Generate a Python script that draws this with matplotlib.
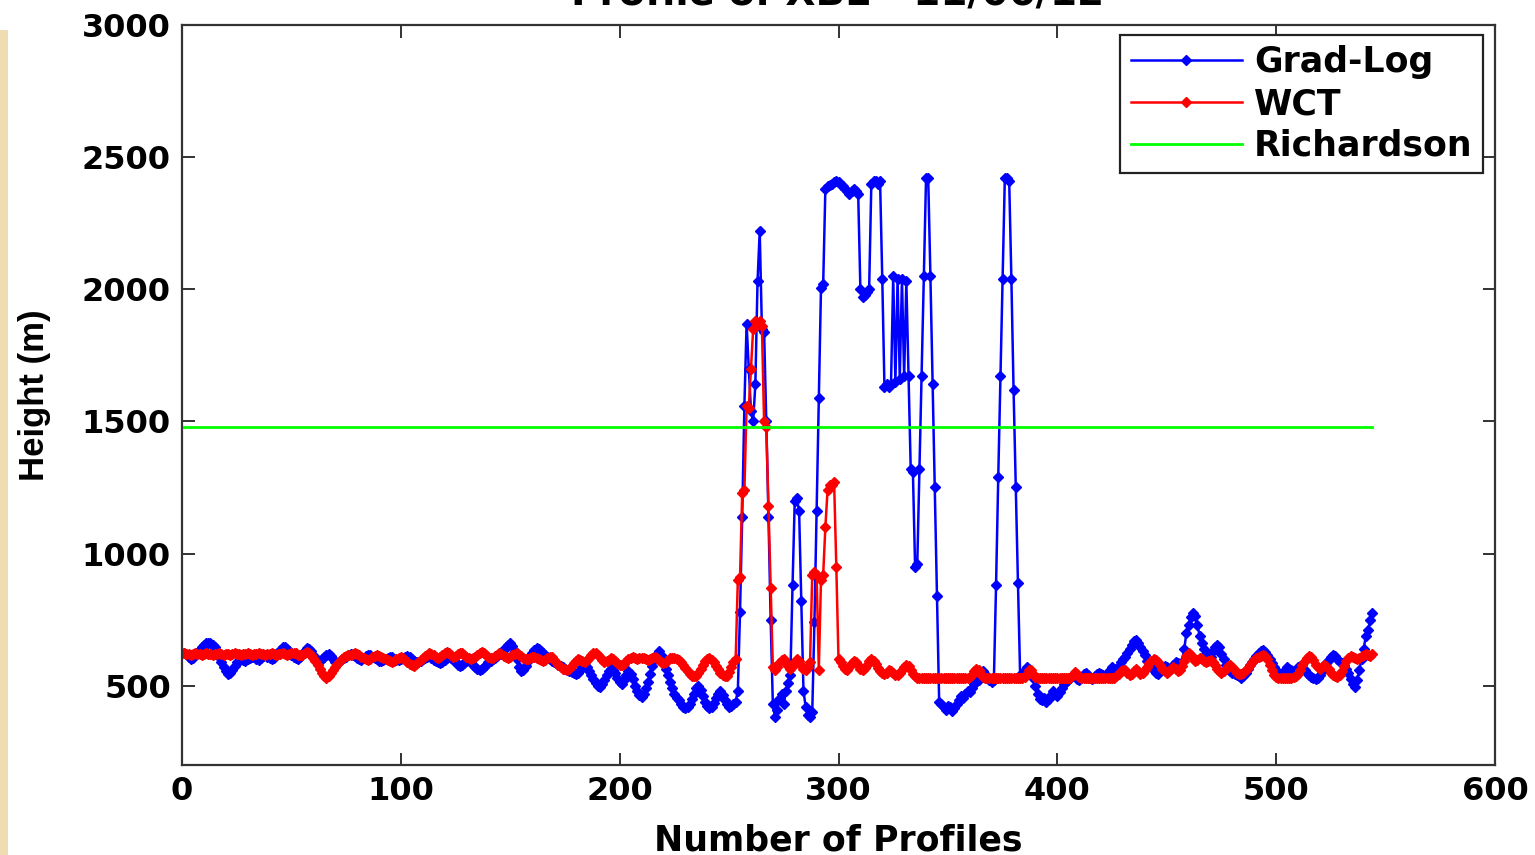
import matplotlib
matplotlib.use('Agg')
import matplotlib.pyplot as plt
from matplotlib.patches import Rectangle
import numpy as np

# Grad-Log boundary layer height per profile (m)
grad_log = [
    625, 620, 610, 600, 605, 615, 625, 635, 645, 655, 660, 662, 660, 655, 645, 630, 610, 590, 570, 555,
    545, 550, 560, 575, 590, 595, 600, 598, 595, 600, 605, 610, 608, 600, 598, 605, 612, 615, 610, 605,
    600, 605, 615, 625, 635, 645, 648, 640, 630, 618, 610, 605, 600, 610, 620, 632, 642, 640, 630, 615,
    605, 598, 595, 600, 608, 615, 620, 612, 600, 590, 585, 592, 600, 606, 610, 615, 620, 618, 612, 605,
    600, 598, 605, 612, 618, 615, 610, 605, 600, 595, 592, 596, 600, 605, 610, 608, 602, 598, 596, 600,
    605, 610, 612, 608, 600, 595, 590, 588, 592, 600, 606, 610, 612, 605, 598, 592, 588, 585, 590, 598,
    605, 610, 604, 596, 588, 580, 575, 578, 585, 592, 598, 590, 580, 570, 565, 560, 565, 572, 580, 590,
    595, 600, 605, 612, 620, 628, 636, 645, 655, 660, 650, 630, 600, 570, 555, 560, 575, 595, 610, 625,
    635, 642, 640, 632, 625, 615, 608, 600, 595, 590, 585, 580, 575, 570, 565, 560, 555, 552, 548, 545,
    550, 560, 572, 580, 570, 555, 540, 525, 510, 500, 495, 505, 520, 540, 555, 565, 560, 548, 530, 515,
    505, 520, 540, 555, 545, 525, 500, 480, 465, 458, 470, 490, 515, 545, 575, 600, 620, 630, 615, 590,
    565, 540, 515, 490, 470, 455, 445, 430, 420, 415, 418, 430, 450, 470, 490, 500, 485, 460, 440, 425,
    415, 420, 435, 455, 470, 480, 465, 445, 430, 420,
    425, 430, 440, 480, 780, 1140, 1560, 1870, 1700, 1540, 1500, 1640, 2030, 2220, 1850, 1840, 1500, 1140, 750, 430,
    380, 410, 450, 470, 430, 480, 510, 540, 880, 1200, 1210, 1160, 820, 480, 420, 390, 380, 400, 740, 1160,
    1590, 2005, 2020, 2380, 2390, 2395, 2400, 2405, 2410, 2405,
    2395, 2390, 2380, 2370, 2360, 2370, 2380, 2370, 2360, 2000, 1970, 1980, 1990, 2000, 2400, 2410, 2410, 2400, 2410, 2040,
    1630, 1640, 1630, 1640, 2050, 1650, 2040, 1660, 2040, 1670, 2030, 1670, 1320, 1310, 950, 960, 1320, 1670, 2050, 2420,
    2420, 2050, 1640, 1250, 840, 440,
    430, 420, 410, 425, 420, 405, 415, 430, 445, 460, 455, 470, 480, 475, 490, 505, 515, 520, 540, 555,
    545, 530, 520, 515, 520,
    880, 1290, 1670, 2040, 2420, 2420, 2410, 2040, 1620, 1250, 890, 540,
    545, 560, 570, 565, 550, 530, 500, 470, 450, 445, 455, 440, 450, 465, 480, 470, 460, 475, 490, 505,
    515, 520, 530, 540, 535, 525, 520, 530, 545, 550, 540, 530, 525, 535, 545, 550, 545,
    540, 535, 545, 560, 570, 565, 560, 575, 590, 600, 610, 625, 640, 655, 668, 672, 660, 648, 630, 615,
    595, 580, 570, 560, 550, 545, 555, 565, 575, 570, 560, 565, 580, 590, 585, 575, 590, 640, 700, 730,
    760, 776, 765, 730, 690, 660, 640, 620, 600, 610, 630, 648, 655, 645, 620, 600, 580, 565, 555, 548,
    545, 540, 535, 530, 538, 550, 565, 578, 590, 600, 612, 622, 630, 635, 628, 615, 600, 585, 570, 558,
    550, 545, 550, 560,
    570, 565, 560, 555, 560, 570, 575, 568, 558, 548, 540, 532, 528, 525, 530, 540, 555, 570, 585, 598,
    610, 618, 612, 600, 590, 585, 578, 565, 548, 525, 505, 495, 520, 560, 600, 640, 690, 710, 750, 776,
]

# WCT boundary layer height per profile (m)
wct = [
    622, 620, 620, 618, 620, 622, 620, 620, 618, 620, 622, 620, 620, 618, 620, 620, 622, 620, 618, 620,
    620, 618, 620, 622, 620, 620, 618, 620, 620, 622, 620, 618, 620, 620, 622, 620, 620, 618, 620, 620,
    622, 620, 618, 620, 620, 622, 620, 618, 620, 622, 625, 622, 618, 615, 618, 622, 628, 625, 615, 605,
    592, 578, 562, 548, 536, 530, 535, 548, 560, 572, 584, 594, 602, 608, 612, 615, 618, 620, 622, 620,
    615, 610, 605, 600, 598, 602, 608, 612, 615, 612, 608, 604, 600, 596, 592, 590, 594, 600, 606, 610,
    605, 598, 590, 582, 578, 576, 582, 590, 598, 605, 612, 618, 622, 620, 615, 608, 604, 610, 618, 624,
    626, 622, 615, 610, 614, 620, 625, 622, 615, 608,
    604, 602, 604, 610, 618, 624, 627, 622, 615, 608, 604, 606, 612, 618, 622, 620, 614, 608, 606, 610,
    615, 620, 622, 618, 612, 606, 602, 600, 604, 608, 610, 606, 600, 596, 594, 598, 604, 610, 608, 598,
    588, 578, 570, 565, 562, 560, 565, 575, 585, 595, 600, 598, 594, 590, 596, 605, 615, 622, 625, 618,
    608, 598, 590, 592, 598, 604, 600, 594, 586, 580, 578, 584, 592, 600, 606, 608, 604, 600, 604, 606,
    604, 600, 596, 600, 606, 610, 606, 598, 590, 586, 590, 598, 604, 606, 604, 600, 596, 588, 578, 566,
    555, 545, 538, 535, 538, 548, 562, 578, 592, 600, 604, 598, 588, 575, 562, 550, 540, 535, 538, 552,
    570, 588, 600,
    900, 910, 1230, 1240, 1560, 1550, 1700, 1850, 1880, 1870, 1880, 1860, 1500, 1480, 1180, 870, 570, 560, 570, 585,
    598, 600, 590, 575, 565, 575, 590, 600, 592, 578, 565, 560, 570, 590, 920, 930, 920, 560, 900, 920,
    1100, 1240, 1260, 1260, 1270, 950, 600,
    590, 575, 565, 560, 570, 585, 595, 590, 578, 565, 560, 568, 580, 595, 600, 595, 582, 568, 556, 548,
    545, 550, 558, 555, 548, 542, 540, 548, 560, 572, 580, 575, 560, 545, 535,
    530, 530, 530, 530, 528, 530, 530, 530, 530, 530, 530, 530, 530, 528, 530, 530, 530, 530, 530, 530,
    530, 530, 530, 530, 532,
    540, 555, 565, 560, 545, 532, 530, 530, 530, 530, 530, 530, 530, 530, 530, 530, 530, 530, 530, 530,
    530, 530, 530, 530, 532, 545, 560, 558, 545, 532,
    528, 528, 528, 528, 528, 528, 528, 528, 528, 528, 528, 528, 528, 528, 528, 528, 540, 552, 545, 532,
    528, 528, 528, 528, 528, 528, 528, 528, 528, 528, 528, 528, 528, 528, 528,
    530, 535, 545, 555, 560, 558, 550, 540, 545, 555, 562, 555, 545, 550, 560, 572, 585, 595, 600, 598,
    590, 578, 565, 555, 548, 555, 565, 570, 562, 555, 560, 575, 595, 612, 622, 618, 605, 595, 598, 605,
    600, 592, 590, 595,
    598, 590, 578, 565, 555, 550, 555, 565, 575, 578, 570, 560, 550, 545,
    545, 550, 558, 568, 578, 588, 596, 604, 610, 614, 616, 612, 600, 580, 560, 542, 532, 528, 528, 528,
    528, 528, 530, 530, 532, 535, 545, 560, 578, 595, 606, 612, 608, 596, 580, 570, 565, 570, 578, 575,
    562, 550, 540, 535, 532, 540, 555, 575, 592, 605, 612, 610, 605, 600, 605, 612, 618, 620, 616, 612,
    620,
]

richardson_height = 1480

x_ticks = [0, 100, 200, 300, 400, 500, 600]
y_ticks = [500, 1000, 1500, 2000, 2500, 3000]

prof_gl = np.arange(1, len(grad_log) + 1)
prof_wct = np.arange(1, len(wct) + 1)
richardson = np.full(len(prof_gl), richardson_height)

fig = plt.figure(figsize=(15.35, 8.55), dpi=100)
ax = fig.add_axes([182/1535, 1 - 765/855, (1495 - 182)/1535, (765 - 25)/855])

ax.plot(prof_gl, grad_log, color='#0000ff', lw=1.8, marker='D', ms=5,
        mec='#0000ff', mfc='#0000ff', label='Grad-Log')
ax.plot(prof_wct, wct, color='#ff0000', lw=1.8, marker='D', ms=5,
        mec='#ff0000', mfc='#ff0000', label='WCT')
ax.plot(prof_gl, richardson, color='#00ff00', lw=2, label='Richardson')

ax.set_xlim(0, 600)
ax.set_ylim(200, 3000)
ax.set_xticks(x_ticks)
ax.set_yticks(y_ticks)
ax.tick_params(direction='in', length=9, width=1.3, top=True, right=True,
               labelsize=23, pad=8, colors='#222222')
for lab in ax.get_xticklabels() + ax.get_yticklabels():
    lab.set_fontweight('bold')
    lab.set_color('black')
for sp in ax.spines.values():
    sp.set_linewidth(1.6)
    sp.set_color('#333333')

ax.set_xlabel('Number of Profiles', fontsize=25, fontweight='bold', labelpad=12)
ax.set_ylabel('Height (m)', fontsize=25, fontweight='bold', labelpad=22,
              family=['Liberation Sans', 'DejaVu Sans'])

leg = ax.legend(loc='upper right', bbox_to_anchor=(1 - 12/1313, 1 - 10/740),
                borderaxespad=0, numpoints=1, fancybox=False, framealpha=1,
                handlelength=3.2, handletextpad=0.35, labelspacing=0.22,
                borderpad=0.3, prop={'size': 25, 'weight': 'bold'})
leg.get_frame().set_edgecolor('#222222')
leg.get_frame().set_linewidth(1.6)

# title, mostly cut off at the top edge
fig.text(838/1535, 1 - 5/855, 'Profile of XBL - 11/06/12', ha='center',
         va='baseline', fontsize=28, fontweight='bold')

# beige strip on the left edge
fig.patches.append(Rectangle((0, 0), 8/1535, 1 - 30/855, transform=fig.transFigure,
                             facecolor='#efdcb2', edgecolor='none'))

fig.savefig('out.png', dpi=100)
